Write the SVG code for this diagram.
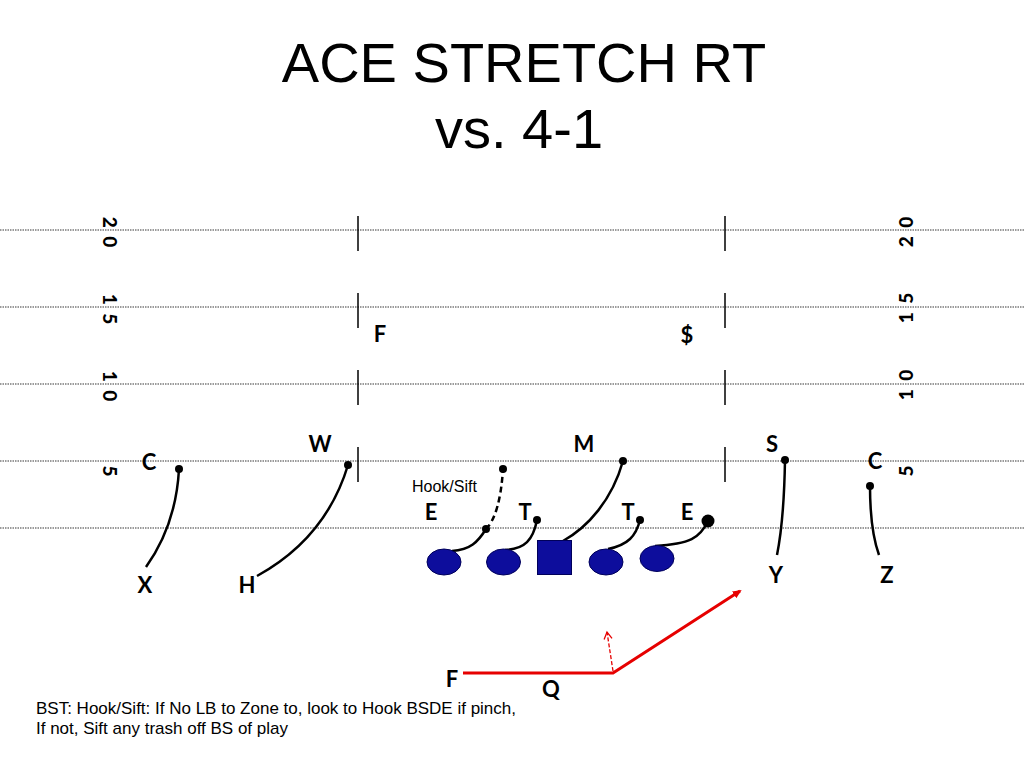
<svg xmlns="http://www.w3.org/2000/svg" width="1024" height="768" viewBox="0 0 1024 768">
<style>
.title{font-family:"Liberation Sans",Arial,sans-serif;font-size:56px;fill:#000;text-anchor:middle}
.lbl{font-family:Lato,"Liberation Sans",sans-serif;font-weight:bold;font-size:22px;fill:#000;text-anchor:middle}
.num{font-family:Lato,"Liberation Sans",sans-serif;font-weight:900;font-size:19px;fill:#000;text-anchor:middle;dominant-baseline:central;word-spacing:4px}
.note{font-family:"Liberation Sans",Arial,sans-serif;font-size:17px;fill:#000}
.yard{stroke:#7a7a7a;stroke-width:1.3;stroke-dasharray:1.5 1;fill:none}
.hash{stroke:#000;stroke-width:1.5}
.route{stroke:#000;stroke-width:2.5;fill:none}
.dot{fill:#000}
.ol{fill:#0d0d9c;stroke:#00005a;stroke-width:1}
.red{stroke:#e60000;stroke-width:3;fill:none}
</style>
<defs>
<marker id="arr" markerWidth="10" markerHeight="10" refX="7" refY="5" orient="auto" markerUnits="userSpaceOnUse" viewBox="0 0 10 10">
<path d="M0,1 L9,5 L0,9 Z" fill="#e60000"/>
</marker>
<marker id="arrOpen" markerWidth="10" markerHeight="10" refX="8" refY="5" orient="auto" markerUnits="userSpaceOnUse" viewBox="0 0 10 10">
<path d="M1,1 L8,5 L1,9" fill="none" stroke="#e60000" stroke-width="1.3"/>
</marker>
</defs>
<rect width="1024" height="768" fill="#fff"/>

<g id="title">
<text class="title" x="524" y="82">ACE STRETCH RT</text>
<text class="title" x="519" y="148">vs. 4-1</text>
</g>

<g id="field">
<line class="yard" x1="0" y1="230" x2="1024" y2="230"/>
<line class="yard" x1="0" y1="307" x2="1024" y2="307"/>
<line class="yard" x1="0" y1="384" x2="1024" y2="384"/>
<line class="yard" x1="0" y1="461" x2="1024" y2="461"/>
<line class="yard" x1="0" y1="528" x2="1024" y2="528"/>
<line class="hash" x1="358" y1="216" x2="358" y2="251"/>
<line class="hash" x1="358" y1="293" x2="358" y2="328"/>
<line class="hash" x1="358" y1="370" x2="358" y2="405"/>
<line class="hash" x1="358" y1="447" x2="358" y2="482"/>
<line class="hash" x1="725" y1="216" x2="725" y2="251"/>
<line class="hash" x1="725" y1="293" x2="725" y2="328"/>
<line class="hash" x1="725" y1="370" x2="725" y2="405"/>
<line class="hash" x1="725" y1="447" x2="725" y2="482"/>
<text class="num" transform="translate(110,232) rotate(90)">2 0</text>
<text class="num" transform="translate(110,309) rotate(90)">1 5</text>
<text class="num" transform="translate(110,386) rotate(90)">1 0</text>
<text class="num" transform="translate(110,471) rotate(90)">5</text>
<text class="num" transform="translate(905,232) rotate(-90)">2 0</text>
<text class="num" transform="translate(905,308) rotate(-90)">1 5</text>
<text class="num" transform="translate(905,385) rotate(-90)">1 0</text>
<text class="num" transform="translate(905,471) rotate(-90)">5</text>
</g>

<g id="connectors">
<path class="route" d="M179,469 Q176,525 146,567"/>
<path class="route" d="M348,465 Q326,538 257,576"/>
<path class="route" d="M785,460 Q784,520 777,555"/>
<path class="route" d="M870,486 Q870,530 879,555"/>
<path class="route" d="M452,551 C470,550 478,542 486,529"/>
<path class="route" d="M486,529 Q500,515 503,469" stroke-dasharray="6 4"/>
<path class="route" d="M505,550 C525,549 533,540 537,520"/>
<path class="route" d="M563,541 C588,527 612,500 623,461"/>
<path class="route" d="M608,549 C628,545 636,536 640,520"/>
<path class="route" d="M655,546 C690,544 700,538 708,521"/>
<path class="red" d="M463,673 L613,673 L740,591" marker-end="url(#arr)"/>
<path d="M613,671 L607,632" stroke="#e60000" stroke-width="1.3" stroke-dasharray="4 2" fill="none" marker-end="url(#arrOpen)"/>
</g>

<g id="defense">
<g id="def-C-left"><text class="lbl" x="149" y="470">C</text><circle class="dot" cx="179" cy="469" r="4"/></g>
<g id="def-W"><text class="lbl" x="320" y="452">W</text><circle class="dot" cx="348" cy="465" r="4"/></g>
<g id="def-F"><text class="lbl" x="380" y="342">F</text></g>
<g id="def-dollar"><text class="lbl" x="687" y="343">$</text></g>
<g id="def-M"><text class="lbl" x="584" y="452">M</text><circle class="dot" cx="623" cy="461" r="4"/></g>
<g id="def-S"><text class="lbl" x="772" y="452">S</text><circle class="dot" cx="785" cy="460" r="4"/></g>
<g id="def-C-right"><text class="lbl" x="875" y="469">C</text><circle class="dot" cx="870" cy="486" r="4"/></g>
<g id="def-E-left"><text class="lbl" x="431" y="520">E</text><circle class="dot" cx="486" cy="529" r="4"/><circle class="dot" cx="503" cy="469" r="4"/></g>
<g id="def-T-left"><text class="lbl" x="525" y="520">T</text><circle class="dot" cx="537" cy="520" r="4"/></g>
<g id="def-T-right"><text class="lbl" x="628" y="520">T</text><circle class="dot" cx="640" cy="520" r="4"/></g>
<g id="def-E-right"><text class="lbl" x="687" y="520">E</text><circle class="dot" cx="708" cy="521" r="6.5"/></g>
</g>

<g id="offense">
<g id="ol-1"><ellipse class="ol" cx="444" cy="562" rx="17" ry="13"/></g>
<g id="ol-2"><ellipse class="ol" cx="503.5" cy="562" rx="17" ry="13"/></g>
<g id="ol-center"><rect class="ol" x="537.5" y="540.5" width="34" height="34"/></g>
<g id="ol-4"><ellipse class="ol" cx="606" cy="562" rx="17" ry="13"/></g>
<g id="ol-5"><ellipse class="ol" cx="657" cy="558.5" rx="17" ry="13"/></g>
<g id="off-X"><text class="lbl" x="145" y="593">X</text></g>
<g id="off-H"><text class="lbl" x="247" y="593">H</text></g>
<g id="off-Y"><text class="lbl" x="776" y="583">Y</text></g>
<g id="off-Z"><text class="lbl" x="887" y="583">Z</text></g>
<g id="off-F"><text class="lbl" x="452" y="687">F</text></g>
<g id="off-Q"><text class="lbl" x="551" y="697">Q</text></g>
</g>

<g id="notes">
<text class="note" x="412" y="492" style="font-size:16px">Hook/Sift</text>
<text class="note" x="36" y="714">BST: Hook/Sift: If No LB to Zone to, look to Hook BSDE if pinch,</text>
<text class="note" x="36" y="734">If not, Sift any trash off BS of play</text>
</g>
</svg>
